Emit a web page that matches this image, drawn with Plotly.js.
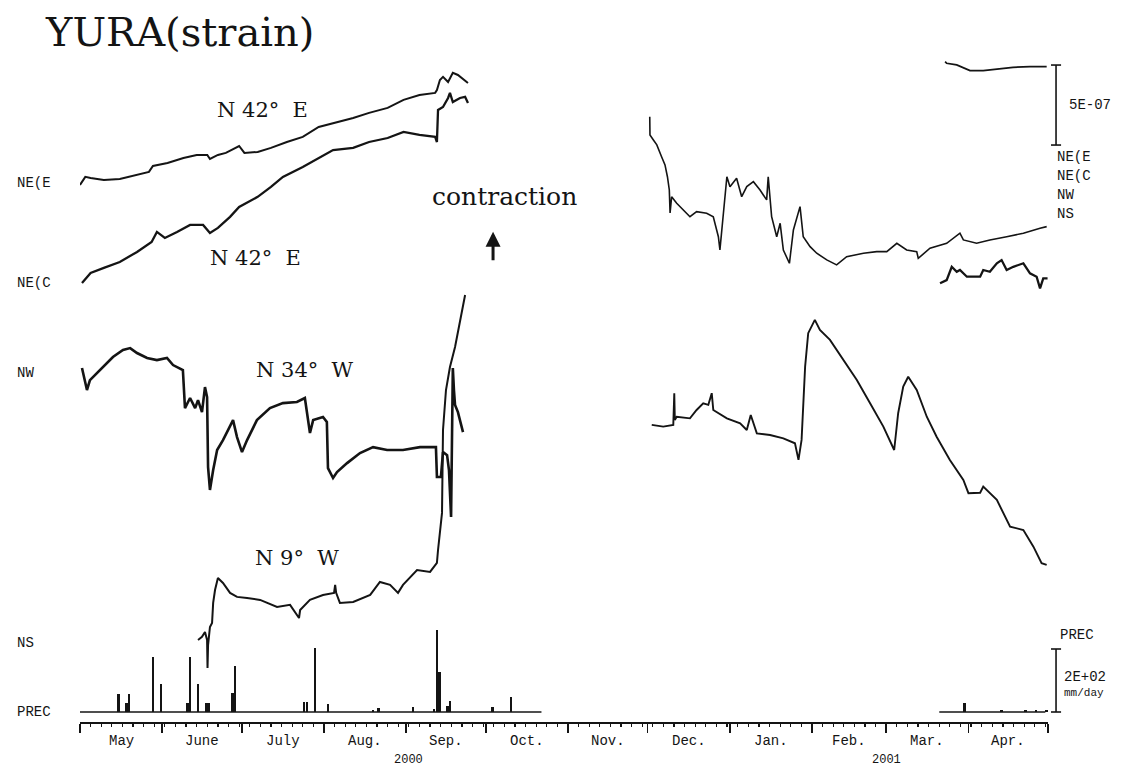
<!DOCTYPE html>
<html>
<head>
<meta charset="utf-8">
<script src="https://cdn.plot.ly/plotly-3.0.1.min.js"></script>
<style>html,body{margin:0;padding:0;background:#fff;}#chart{width:1122px;height:771px;}</style>
</head>
<body>
<div id="chart"></div>
<script>
// ---------- DATA (strain in units of 1e-7, relative to each trace's reference level) ----------
const neeLeftT = ['2000-05-01','2000-05-03','2000-05-05','2000-05-10','2000-05-16','2000-05-22 12:00','2000-05-27','2000-05-28 12:00','2000-06-03','2000-06-09','2000-06-14','2000-06-18','2000-06-19','2000-06-22','2000-06-25','2000-06-30','2000-07-02','2000-07-07','2000-07-12','2000-07-18','2000-07-24','2000-07-30','2000-08-06','2000-08-12','2000-08-18','2000-08-25','2000-08-31','2000-09-06','2000-09-11 22:00','2000-09-12 14:00','2000-09-13 17:00','2000-09-14 21:00','2000-09-16 19:00','2000-09-18 14:00','2000-09-20 12:00','2000-09-24 07:00'];
const neeLeftV = [-0.12,0.38,0.31,0.19,0.25,0.5,0.69,1.06,1.25,1.56,1.75,1.75,1.5,1.75,1.88,2.31,1.88,1.94,2.19,2.56,2.88,3.5,3.81,4.06,4.38,4.69,5.19,5.5,5.63,5.81,6.44,6.63,6.31,6.88,6.75,6.25];
const neeRightT = ['2001-03-23 05:00','2001-03-23 19:00','2001-03-27 14:00','2001-04-01 14:00','2001-04-06 14:00','2001-04-11 17:00','2001-04-17 19:00','2001-04-24 05:00','2001-04-30 12:00'];
const neeRightV = [7.58,7.48,7.38,7.02,7.02,7.1,7.23,7.27,7.27];

const necLeftT = ['2000-05-01 18:00','2000-05-05','2000-05-10','2000-05-16','2000-05-22 12:00','2000-05-28','2000-05-30','2000-06-02','2000-06-06 14:00','2000-06-11 12:00','2000-06-16 10:00','2000-06-19','2000-06-22','2000-06-26 14:00','2000-06-30','2000-07-07','2000-07-12','2000-07-16 12:00','2000-07-24','2000-07-30','2000-08-04 10:00','2000-08-12','2000-08-18','2000-08-25','2000-08-31','2000-09-06','2000-09-11 22:00','2000-09-12 14:00','2000-09-13 00:00','2000-09-14 21:00','2000-09-16 19:00','2000-09-17 12:00','2000-09-18 14:00','2000-09-21 07:00','2000-09-23 05:00','2000-09-24 07:00'];
const necLeftV = [0,0.63,0.94,1.31,1.94,2.56,3.19,2.81,3.19,3.63,3.63,3.13,3.44,4.13,4.75,5.38,6.0,6.63,7.25,7.81,8.31,8.44,8.81,9.06,9.44,9.25,9.13,8.81,10.81,11.0,11.56,11.88,11.31,11.56,11.63,11.25];
const necRightT = ['2000-12-01 20:00','2000-12-01 22:00','2000-12-03 05:00','2000-12-04 12:00','2000-12-06 07:00','2000-12-07 14:00','2000-12-08 12:00','2000-12-09 05:00','2000-12-09 12:00','2000-12-10 02:00','2000-12-12','2000-12-14 12:00','2000-12-17','2000-12-19 12:00','2000-12-23 07:00','2000-12-25 19:00','2000-12-27 17:00','2000-12-28 07:00','2000-12-29 07:00','2000-12-30 22:00','2001-01-01 02:00','2001-01-03 14:00','2001-01-05 12:00','2001-01-07 10:00','2001-01-09 22:00','2001-01-12 10:00','2001-01-14 22:00','2001-01-15 12:00','2001-01-16 19:00','2001-01-18 17:00','2001-01-20','2001-01-21 05:00','2001-01-23 12:00','2001-01-25','2001-01-27 12:00','2001-01-28 17:00','2001-01-31 07:00','2001-02-02 19:00','2001-02-06 14:00','2001-02-10 07:00','2001-02-14 02:00','2001-02-20 10:00','2001-02-25 10:00','2001-03-01 05:00','2001-03-05','2001-03-08 17:00','2001-03-12 12:00','2001-03-13 02:00','2001-03-17 12:00','2001-03-23 19:00','2001-03-28 19:00','2001-03-30 02:00','2001-04-04 02:00','2001-04-09 02:00','2001-04-15 10:00','2001-04-21 17:00','2001-04-28','2001-04-30 12:00'];
const necRightV = [10.39,9.25,8.94,8.63,7.89,7.38,6.64,5.81,4.38,5.39,4.98,4.56,4.14,4.46,4.36,4.14,2.89,2.06,3.73,6.64,6.02,6.54,5.39,6.02,6.33,5.81,5.19,6.64,4.14,2.89,3.73,2.06,1.23,3.31,4.77,2.89,2.27,1.86,1.44,1.13,1.64,1.86,1.96,1.96,2.48,2.06,1.96,1.54,2.17,2.48,3.11,2.69,2.48,2.69,2.89,3.11,3.42,3.52];

const nwLeftT = ['2000-05-01 18:00','2000-05-03 15:00','2000-05-04 18:00','2000-05-07 10:00','2000-05-10','2000-05-13 10:00','2000-05-17 05:00','2000-05-19 22:00','2000-05-22 12:00','2000-05-26 07:00','2000-05-30','2000-06-02 19:00','2000-06-05 02:00','2000-06-07 17:00','2000-06-08 19:00','2000-06-09 14:00','2000-06-11 12:00','2000-06-13 10:00','2000-06-14 12:00','2000-06-16','2000-06-17 03:00','2000-06-17 22:00','2000-06-18 07:00','2000-06-19','2000-06-20 05:00','2000-06-21 17:00','2000-06-23 22:00','2000-06-27 17:00','2000-06-29 05:00','2000-07-01 02:00','2000-07-03','2000-07-06 17:00','2000-07-11 15:00','2000-07-16 12:00','2000-07-21 19:00','2000-07-24 19:00','2000-07-26','2000-07-26 17:00','2000-07-27 22:00','2000-07-31 15:00','2000-08-02 02:00','2000-08-02 12:00','2000-08-04 10:00','2000-08-05 22:00','2000-08-09 17:00','2000-08-14 14:00','2000-08-19 12:00','2000-08-24 19:00','2000-08-30 19:00','2000-09-06 05:00','2000-09-12 05:00','2000-09-12 14:00','2000-09-14 02:00','2000-09-14 21:00','2000-09-16 10:00','2000-09-17 03:00','2000-09-17 22:00','2000-09-18 07:00','2000-09-18 14:00','2000-09-19 00:00','2000-09-19 10:00','2000-09-20 12:00','2000-09-22 10:00'];
const nwLeftV = [0.31,-1.06,-0.44,0,0.38,1.0,1.44,1.56,1.25,0.94,0.81,0.94,0.5,0.31,0.19,-2.19,-1.56,-2.19,-1.69,-2.44,-0.88,-1.5,-5.88,-7.31,-6.06,-4.81,-4.19,-2.94,-4.0,-4.94,-4.19,-2.94,-2.19,-1.88,-1.81,-1.56,-2.94,-3.75,-2.94,-2.75,-3.06,-5.94,-6.56,-6.19,-5.63,-5.0,-4.63,-4.81,-4.81,-4.63,-4.63,-6.5,-6.5,-4.94,-5.13,-6.06,-9.0,-4.19,0.31,-1.06,-2.0,-2.44,-3.69];
const nwRightT = ['2001-03-21 07:00','2001-03-23 19:00','2001-03-25 17:00','2001-03-27 14:00','2001-03-28 19:00','2001-03-31 10:00','2001-04-05 10:00','2001-04-06 14:00','2001-04-09 02:00','2001-04-11 17:00','2001-04-13 12:00','2001-04-15 10:00','2001-04-17 22:00','2001-04-21 17:00','2001-04-24 05:00','2001-04-26 17:00','2001-04-28 00:00','2001-04-29 05:00','2001-04-30 20:00'];
const nwRightV = [5.61,5.81,6.64,6.33,6.44,6.02,6.02,6.44,6.33,6.86,7.06,6.44,6.64,6.86,6.23,6.02,5.29,5.92,5.92];

const nsLeftT = ['2000-06-14 12:00','2000-06-16','2000-06-17 03:00','2000-06-17 22:00','2000-06-18 02:00','2000-06-18 07:00','2000-06-19','2000-06-19 19:00','2000-06-20 05:00','2000-06-20 22:00','2000-06-22','2000-06-23 22:00','2000-06-26 14:00','2000-06-29 05:00','2000-07-03','2000-07-07 22:00','2000-07-14 07:00','2000-07-19 05:00','2000-07-22 14:00','2000-07-23','2000-07-26 17:00','2000-07-31 15:00','2000-08-04 19:00','2000-08-05 05:00','2000-08-05 14:00','2000-08-07','2000-08-12','2000-08-18 10:00','2000-08-22 02:00','2000-08-25 22:00','2000-08-28 22:00','2000-08-30 19:00','2000-09-05 02:00','2000-09-10','2000-09-12 14:00','2000-09-13 00:00','2000-09-14 12:00','2000-09-14 21:00','2000-09-16','2000-09-17 12:00','2000-09-19 10:00','2000-09-21 07:00','2000-09-23 05:00'];
const nsLeftV = [0.19,0.38,0.69,0.19,-1.56,-0.13,1.0,1.25,2.5,3.31,4.06,3.75,3.13,2.88,2.81,2.69,2.25,2.38,1.56,2.06,2.69,3.0,3.13,3.63,3.13,2.5,2.56,3.0,3.81,3.63,3.13,3.63,4.56,4.44,5.0,5.81,8.13,13.31,15.81,17.25,18.5,20.19,21.75];
const nsRightT = ['2000-12-02 14:00','2000-12-06 22:00','2000-12-10 17:00','2000-12-11 02:00','2000-12-11 07:00','2000-12-12','2000-12-17','2000-12-19 12:00','2000-12-22','2000-12-23 22:00','2000-12-25 05:00','2000-12-25 19:00','2000-12-30 22:00','2001-01-04 22:00','2001-01-07 10:00','2001-01-08 22:00','2001-01-11 05:00','2001-01-16 05:00','2001-01-21 05:00','2001-01-25 14:00','2001-01-26 22:00','2001-01-28 02:00','2001-01-29 10:00','2001-01-30 14:00','2001-02-02 02:00','2001-02-04','2001-02-07 19:00','2001-02-12 19:00','2001-02-17 22:00','2001-02-22 22:00','2001-02-27 22:00','2001-03-04','2001-03-05 12:00','2001-03-07 10:00','2001-03-09 07:00','2001-03-12 12:00','2001-03-16 07:00','2001-03-20','2001-03-25','2001-03-30 02:00','2001-04-01','2001-04-05 10:00','2001-04-06 14:00','2001-04-11 17:00','2001-04-16 17:00','2001-04-21 17:00','2001-04-25 12:00','2001-04-28 14:00','2001-04-30 12:00'];
const nsRightV = [13.63,13.52,13.63,15.61,13.94,14.14,14.04,14.56,14.98,14.88,15.61,14.56,14.04,13.73,13.31,14.25,13.1,13.0,12.79,12.48,11.44,12.69,17.27,19.36,20.19,19.56,18.94,17.69,16.44,14.98,13.52,12.06,14.36,16.02,16.64,15.81,14.14,12.89,11.44,10.19,9.36,9.39,9.77,8.94,7.27,7.06,6.02,4.98,4.88];

// precipitation, mm/day
const precDates = ['2000-05-15','2000-05-18','2000-05-19','2000-05-28','2000-05-31','2000-06-10','2000-06-11','2000-06-14','2000-06-17','2000-06-18','2000-06-27','2000-06-28','2000-07-24','2000-07-25','2000-07-28','2000-08-02','2000-08-19','2000-08-21','2000-09-03','2000-09-11','2000-09-12','2000-09-13','2000-09-16','2000-09-17','2000-10-03','2000-10-10','2001-03-30','2001-04-13','2001-04-22','2001-04-26','2001-04-30'];
const precMm = [57,29,57,175,89,29,175,89,29,29,60,146,32,32,203,25,6,13,16,10,260,127,19,35,16,48,27,5,5,6,5];
const precRecordStart = ['2000-05-01','2001-03-21'];
const precRecordEnd = ['2000-10-22','2001-04-30'];

// axis labels
const monthStarts = ['2000-05-01','2000-06-01','2000-07-01','2000-08-01','2000-09-01','2000-10-01','2000-11-01','2000-12-01','2001-01-01','2001-02-01','2001-03-01','2001-04-01','2001-05-01'];
const monthNames = ['May','June','July','Aug.','Sep.','Oct.','Nov.','Dec.','Jan.','Feb.','Mar.','Apr.'];
const yearLabels = ['2000','2001'];
const yearAt = ['2000-09-02','2001-03-01'];
const seriesNames = ['NE(E','NE(C','NW','NS'];

// ---------- LAYOUT CONSTANTS ----------
const levels = {nee:33.69, nec:27.44, nw:21.81, ns:4.94};   // reference level of each trace on the stacked axis
const INK = '#141414';
const SERIF = 'DejaVu Serif, serif';
const MONO = 'Liberation Mono, DejaVu Sans Mono, monospace';

function strain(t, v, lvl, w){
  return {type:'scatter', mode:'lines', x:t, y:v.map(a=>a+lvl), xaxis:'x', yaxis:'y',
          line:{color:INK, width:w}, hoverinfo:'skip', showlegend:false};
}
const traces = [
  strain(neeLeftT, neeLeftV, levels.nee, 2.0), strain(neeRightT, neeRightV, levels.nee, 1.8),
  strain(necLeftT, necLeftV, levels.nec, 2.3), strain(necRightT, necRightV, levels.nec, 1.6),
  strain(nwLeftT, nwLeftV, levels.nw, 2.6), strain(nwRightT, nwRightV, levels.nw, 2.3),
  strain(nsLeftT, nsLeftV, levels.ns, 2.0), strain(nsRightT, nsRightV, levels.ns, 1.9)
];
for (let i=0;i<precRecordStart.length;i++){
  traces.push({type:'scatter', mode:'lines', x:[precRecordStart[i], precRecordEnd[i]], y:[0,0],
    xaxis:'x', yaxis:'y2', line:{color:INK, width:1.3}, hoverinfo:'skip', showlegend:false});
}
traces.push({type:'bar', x:precDates.map(d=>d+' 12:00'), y:precMm, xaxis:'x', yaxis:'y2',
  width:0.9*86400000, marker:{color:INK, line:{width:0}}, hoverinfo:'skip', showlegend:false});

// month label midpoints
const monthMids = monthNames.map((m,i)=>{
  const a = new Date(monthStarts[i]+'T00:00:00Z').getTime();
  const b = new Date(monthStarts[i+1]+'T00:00:00Z').getTime();
  return new Date((a+b)/2).toISOString().slice(0,19).replace('T',' ');
});

const ann = [];
const serifTxt = (text,x,y,size)=>({text, x, y, xref:'paper', yref:'paper', showarrow:false,
  xanchor:'center', yanchor:'middle', font:{family:SERIF, size, color:INK}});
ann.push(serifTxt('N 42°&#160;&#160;E', 0.189, 0.897, 21));
ann.push(serifTxt('N 42°&#160;&#160;E', 0.181, 0.680, 21));
ann.push(serifTxt('contraction', 0.439, 0.770, 25));
ann.push(serifTxt('N 34°&#160;&#160;W', 0.2324, 0.516, 21));
ann.push(serifTxt('N 9°&#160;&#160;W', 0.224, 0.2405, 21));
ann.push({text:'', x:0.4267, y:0.719, xref:'paper', yref:'paper', showarrow:true, ax:0, ay:30,
  arrowhead:2, arrowsize:1, arrowwidth:3, arrowcolor:INK});

// left labels at reference levels
const lvlArr = [levels.nee, levels.nec, levels.nw, levels.ns];
seriesNames.forEach((n,i)=>ann.push({text:n, x:-0.0671, y:lvlArr[i], xref:'paper', yref:'y', showarrow:false,
  xanchor:'left', yanchor:'middle', font:{family:MONO, size:14, color:INK}}));
ann.push({text:'PREC', x:-0.0671, y:0, xref:'paper', yref:'y2', showarrow:false,
  xanchor:'left', yanchor:'middle', font:{family:MONO, size:14, color:INK}});
// right labels
const rightY = [0.8284, 0.8006, 0.7727, 0.7449];
seriesNames.forEach((n,i)=>ann.push({text:n, x:1.0072, y:rightY[i], xref:'paper', yref:'paper', showarrow:false,
  xanchor:'left', yanchor:'middle', font:{family:MONO, size:14, color:INK}}));
ann.push({text:'5E-07', x:1.0196, y:0.9047, xref:'paper', yref:'paper', showarrow:false,
  xanchor:'left', yanchor:'middle', font:{family:MONO, size:14, color:INK}});
ann.push({text:'PREC', x:1.0103, y:0.1276, xref:'paper', yref:'paper', showarrow:false,
  xanchor:'left', yanchor:'middle', font:{family:MONO, size:14, color:INK}});
ann.push({text:'2E+02', x:1.0145, y:0.066, xref:'paper', yref:'paper', showarrow:false,
  xanchor:'left', yanchor:'middle', font:{family:MONO, size:14, color:INK}});
ann.push({text:'mm/day', x:1.0145, y:0.043, xref:'paper', yref:'paper', showarrow:false,
  xanchor:'left', yanchor:'middle', font:{family:MONO, size:11, color:INK}});
// month labels and years
monthNames.forEach((m,i)=>ann.push({text:m, x:monthMids[i], y:-0.028, xref:'x', yref:'paper', showarrow:false,
  xanchor:'center', yanchor:'middle', font:{family:MONO, size:14, color:INK}}));
yearLabels.forEach((t,i)=>ann.push({text:t, x:yearAt[i], y:-0.056, xref:'x', yref:'paper', showarrow:false,
  xanchor:'center', yanchor:'middle', font:{family:MONO, size:12, color:INK}}));

// scale bars
const shp = [];
const bar = (yref, y0, y1)=>{
  shp.push({type:'line', xref:'paper', yref, x0:1.0083, x1:1.0083, y0, y1, line:{color:INK, width:1.6}});
  shp.push({type:'line', xref:'paper', yref, x0:1.0031, x1:1.0135, y0, y1:y0, line:{color:INK, width:1.6}});
  shp.push({type:'line', xref:'paper', yref, x0:1.0031, x1:1.0135, y0:y1, y1, line:{color:INK, width:1.6}});
};
bar('y', 36.06, 41.06);   // 5E-07 strain
bar('y2', 0, 200);        // 2E+02 mm/day

const layout = {
  width:1122, height:771,
  margin:{l:80, r:74, t:40, b:49},
  paper_bgcolor:'#fff', plot_bgcolor:'rgba(0,0,0,0)',
  showlegend:false,
  title:{text:'YURA(strain)', font:{family:SERIF, size:40, color:INK}, x:0.041, xanchor:'left', xref:'container',
         y:0.958, yanchor:'middle', yref:'container'},
  xaxis:{type:'date', range:['2000-05-01','2001-05-01'], showgrid:false, zeroline:false,
         showline:true, linecolor:INK, linewidth:1.5,
         tickmode:'array', tickvals:monthStarts, ticktext:monthStarts.map(()=>''),
         ticks:'outside', ticklen:9, tickwidth:1.5, tickcolor:INK,
         minor:{tickmode:'linear', tick0:'2000-05-01', dtick:4*86400000, ticks:'outside', ticklen:3,
                tickwidth:1.2, tickcolor:INK, showgrid:false}},
  yaxis:{domain:[0,1], range:[0,42.625], showgrid:false, zeroline:false, showline:false,
         showticklabels:false, ticks:'', fixedrange:true},
  yaxis2:{domain:[0,0.1789], range:[-31.75,355.6], anchor:'x', showgrid:false, zeroline:false,
          showline:false, showticklabels:false, ticks:''},
  annotations:ann, shapes:shp, bargap:0
};
Plotly.newPlot('chart', traces, layout, {staticPlot:true, displayModeBar:false});
</script>
</body>
</html>
